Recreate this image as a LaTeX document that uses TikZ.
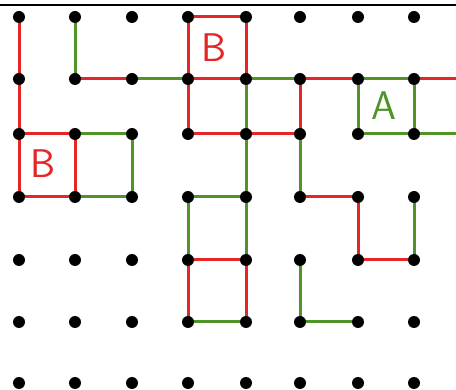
\documentclass[tikz,border=0pt]{standalone}
\usetikzlibrary{backgrounds}
\definecolor{penred}{RGB}{228,38,38}
\definecolor{pengreen}{RGB}{80,148,40}

\begin{document}
\begin{tikzpicture}[x=1pt, y=-1pt,
  peg/.style={circle, fill=black, inner sep=0pt, minimum size=12pt},
  redpath/.style={draw=penred, line width=3pt, line cap=round, line join=round},
  greenpath/.style={draw=pengreen, line width=3pt, line cap=round, line join=round},
  boxlabel/.style={font=\sffamily\fontsize{40}{40}\selectfont}]
\useasboundingbox (0,0) rectangle (456,390);
\draw[line width=1.2pt] (0,5) -- (456,5);

% pegboard
\foreach \x [count=\i from 0] in {19,75,132,188,246,300,358,414}
  \foreach \y [count=\j from 0] in {17,79,134,197,260,322,383}
    \node[peg] (d-\i-\j) at (\x,\y) {};
\coordinate (out-1) at (456,79);
\coordinate (out-2) at (456,134);

\begin{scope}[on background layer]
% red moves
\foreach \a/\b in {0-0/0-1, 0-1/0-2, 0-2/1-2, 1-2/1-3, 0-2/0-3, 0-3/1-3,
    1-1/2-1, 3-0/4-0, 3-0/3-1, 4-0/4-1, 3-1/4-1, 3-1/3-2, 3-2/4-2,
    4-2/5-2, 5-1/5-2, 5-1/6-1, 5-3/6-3, 6-3/6-4, 6-4/7-4,
    3-4/4-4, 3-4/3-5, 4-4/4-5}
  \draw[redpath] (d-\a.center) -- (d-\b.center);
\draw[redpath] (d-7-1.center) -- (out-1);
% green moves
\foreach \a/\b in {1-0/1-1, 2-1/3-1, 4-1/5-1, 4-1/4-2, 4-2/4-3,
    6-1/7-1, 6-1/6-2, 6-2/7-2, 7-1/7-2, 5-2/5-3, 7-3/7-4,
    1-2/2-2, 2-2/2-3, 1-3/2-3, 3-3/4-3, 4-3/4-4, 3-3/3-4,
    3-5/4-5, 5-4/5-5, 5-5/6-5}
  \draw[greenpath] (d-\a.center) -- (d-\b.center);
\draw[greenpath] (d-7-2.center) -- (out-2);
\end{scope}

% captured boxes
\node[boxlabel, text=penred] (b-top) at (214,48) {B};
\node[boxlabel, text=penred] (b-left) at (43,164) {B};
\node[boxlabel, text=pengreen] (a-right) at (384,106) {A};
\end{tikzpicture}
\end{document}
